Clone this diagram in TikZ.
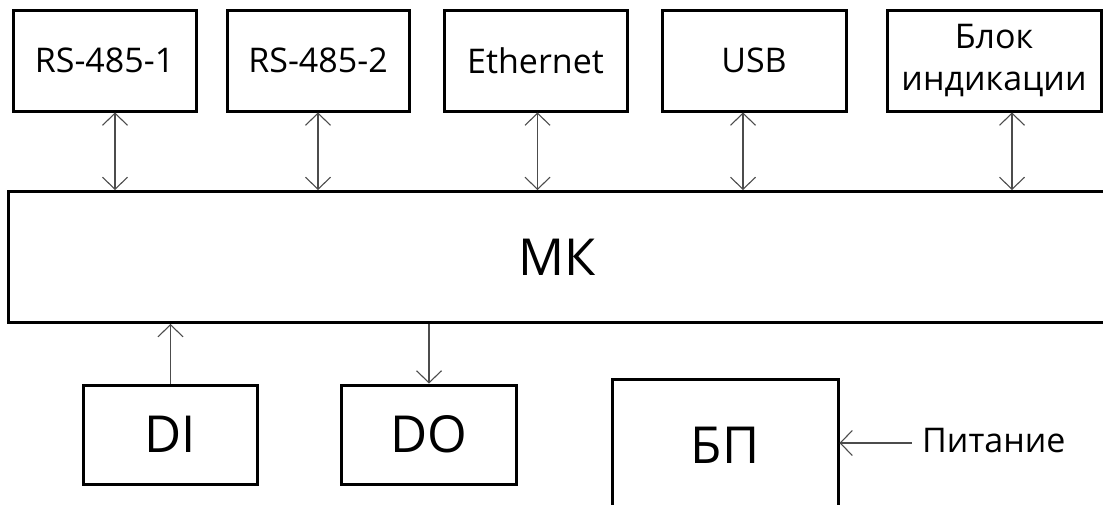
\documentclass[tikz,border=0pt]{standalone}
\usepackage{fontspec}
\setmainfont{Open Sans}
\usetikzlibrary{arrows.meta}
\begin{document}
\begin{tikzpicture}[x=1pt,y=-1pt,
  blk/.style={draw=black, line width=3pt, fill=white, inner sep=0pt, align=center,
    font=\fontsize{34}{42}\selectfont},
  bigblk/.style={blk, font=\fontsize{51}{60}\selectfont},
  link/.style={draw=black!70, line width=1.1pt},
  tip/.style={-{Straight Barb[length=12pt,width=25pt,line width=1.1pt]}},
  bitip/.style={{Straight Barb[length=12pt,width=25pt,line width=1.1pt]}-{Straight Barb[length=12pt,width=25pt,line width=1.1pt]}},
  lbl/.style={font=\fontsize{34}{40}\selectfont, inner sep=0pt, anchor=west}]
\useasboundingbox[fill=white] (0,0) rectangle (1103,504);
% top row
\node[blk, minimum width=183pt, minimum height=101pt] (rs1) at (104.5,60.5) {RS-485-1};
\node[blk, minimum width=182pt, minimum height=101pt] (rs2) at (318,60.5) {RS-485-2};
\node[blk, minimum width=183pt, minimum height=101pt] (eth) at (535.5,60.5) {Ethernet};
\node[blk, minimum width=184pt, minimum height=101pt] (usb) at (754,60.5) {USB};
\node[blk, minimum width=214pt, minimum height=101pt] (ind) at (994,60.5) {Блок\\индикации};
% MK
\node[bigblk, minimum width=1098pt, minimum height=131pt] (mk) at (557,257) {МК};
% bottom row
\node[bigblk, minimum width=174pt, minimum height=99pt] (di) at (170.5,434.5) {DI};
\node[bigblk, minimum width=175pt, minimum height=99pt] (do) at (429,434.5) {DO};
\node[bigblk, minimum width=226pt, minimum height=132pt] (bp) at (725,445) {БП};
\node[lbl] (pit) at (922,441) {Питание};
\coordinate (pitend) at (911.5,443);
% connectors
\draw[link,bitip] ([xshift=10.5pt]rs1.south) -- ([xshift=10.5pt]rs1.south |- mk.north);
\draw[link,bitip] (rs2.south) -- (rs2.south |- mk.north);
\draw[link,bitip] ([xshift=2pt]eth.south) -- ([xshift=2pt]eth.south |- mk.north);
\draw[link,bitip] ([xshift=-11pt]usb.south) -- ([xshift=-11pt]usb.south |- mk.north);
\draw[link,bitip] ([xshift=18pt]ind.south) -- ([xshift=18pt]ind.south |- mk.north);
\draw[link,tip] (di.north) -- (di.north |- mk.south);
\draw[link,tip] (do.north |- mk.south) -- (do.north);
\draw[link,tip] (pitend) -- (pitend -| bp.east);
\end{tikzpicture}
\end{document}
